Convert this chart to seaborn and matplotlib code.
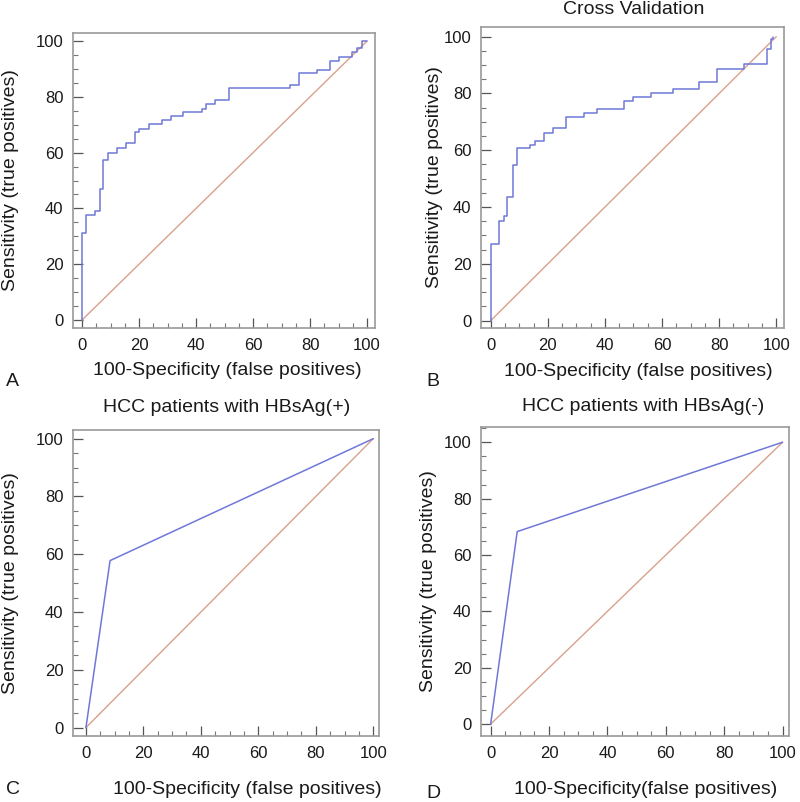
import matplotlib
matplotlib.use("Agg")
import matplotlib.pyplot as plt
import seaborn as sns
import pandas as pd
from matplotlib.ticker import MultipleLocator

# ---------------- data ----------------
a_fpr = [0, 0, 1.4, 4.6, 6.3, 7.5, 9.2, 12.4, 15.4, 18.6, 20.1, 23.3, 28, 31.1, 35.4,
         42, 43.5, 46.7, 51.4, 73, 76.2, 82.3, 87, 90.3, 94.6, 96.4, 98.1, 100]
a_tpr = [0, 31, 37.8, 39, 47, 57.5, 60, 61.5, 63.5, 67.4, 68.6, 70.2, 71.7, 73, 74.4,
         75.7, 77.3, 78.8, 83, 84.2, 88.6, 89.6, 92.9, 94.4, 96, 97.5, 100, 100]

b_fpr = [0, 0, 3.0, 4.7, 5.8, 7.7, 9.1, 13.8, 15.5, 18.7, 21.7, 26.4, 32.5, 37.2,
         46.7, 49.7, 56, 63.7, 73.1, 79.4, 88.7, 96.7, 98.1, 98.8]
b_tpr = [0, 26.9, 35.2, 36.9, 43.7, 54.8, 60.7, 61.9, 63.4, 66.2, 67.7, 71.6, 73, 74.6,
         77.5, 78.7, 80.3, 81.6, 84.2, 88.5, 90.4, 95.6, 99.1, 100]

c_fpr = [0, 8.4, 100]
c_tpr = [0, 57.8, 100]

d_fpr = [0, 9.1, 100]
d_tpr = [0, 68.3, 100]

diag = [0, 100]

titles = ["", "Cross Validation", "HCC patients with HBsAg(+)", "HCC patients with HBsAg(-)"]
xlabels = ["100-Specificity (false positives)", "100-Specificity (false positives)",
           "100-Specificity (false positives)", "100-Specificity(false positives)"]
ylabel = "Sensitivity (true positives)"
letters = ["A", "B", "C", "D"]

# ---------------- style ----------------
sns.set_style("ticks")
plt.rcParams["font.family"] = ["Liberation Sans", "DejaVu Sans"]

BLUE = "#6f78d8"
ORANGE = "#d9a08c"
SPINE = "#9a9a9a"
TXT = "#1a1a1a"

fig = plt.figure(figsize=(8.0, 8.02), dpi=100)

W, H = 800, 802
def rect(l, r, t, b):
    return [l / W, 1 - b / H, (r - l) / W, (b - t) / H]

boxes = [rect(73, 375, 33, 328), rect(481, 784, 27, 328),
         rect(73, 379, 430, 736), rect(481, 789, 427, 736)]
lims = [((-3.2, 102.8), (-2.9, 102.9)), ((-3.4, 102.7), (-2.6, 103.4)),
        ((-4.5, 102.0), (-2.9, 103.0)), ((-3.3, 102.2), (-4.2, 105.4))]
curves = [(a_fpr, a_tpr, "steps-post"), (b_fpr, b_tpr, "steps-post"),
          (c_fpr, c_tpr, "default"), (d_fpr, d_tpr, "default")]
ylab_x = [-0.178, -0.125, -0.176, -0.143]
xlab_pos = [(0.51, -0.115), (0.52, -0.115), (0.57, -0.148), (0.536, -0.146)]
title_pos = [None, (0.505, 1.057), (0.503, 1.075), (0.526, 1.065)]
letter_pos = [(6, 381), (426, 381), (6, 790), (426, 793)]

for i in range(4):
    ax = fig.add_axes(boxes[i])
    fx, ty, ds = curves[i]
    df = pd.DataFrame({"fpr": fx, "tpr": ty})
    ddf = pd.DataFrame({"fpr": diag, "tpr": diag})
    sns.lineplot(data=ddf, x="fpr", y="tpr", ax=ax, color=ORANGE, lw=1.0,
                 sort=False, estimator=None)
    sns.lineplot(data=df, x="fpr", y="tpr", ax=ax, color=BLUE, lw=1.1,
                 sort=False, estimator=None, drawstyle=ds)
    ax.set_xlim(*lims[i][0])
    ax.set_ylim(*lims[i][1])
    ax.xaxis.set_major_locator(MultipleLocator(20))
    ax.xaxis.set_minor_locator(MultipleLocator(5))
    ax.yaxis.set_major_locator(MultipleLocator(20))
    ax.yaxis.set_minor_locator(MultipleLocator(5))
    ax.tick_params(which="major", direction="in", length=7, width=0.9,
                   color="#555555", labelsize=12, labelcolor=TXT, pad=7)
    ax.tick_params(which="minor", direction="in", length=3.5, width=0.8,
                   color="#777777")
    for s in ax.spines.values():
        s.set_color(SPINE)
        s.set_linewidth(1.2)
    ax.set_xlabel(xlabels[i], fontsize=14, color=TXT)
    ax.xaxis.set_label_coords(*xlab_pos[i])
    ax.set_ylabel(ylabel, fontsize=14, color=TXT)
    ax.yaxis.set_label_coords(ylab_x[i], 0.5)
    if title_pos[i] is not None:
        tx, tyy = title_pos[i]
        ax.text(tx, tyy, titles[i], transform=ax.transAxes, ha="center",
                va="center", fontsize=14, color=TXT)
    lx, ly = letter_pos[i]
    fig.text(lx / W, 1 - ly / H, letters[i], fontsize=14, color=TXT,
             ha="left", va="center")

fig.savefig("out.png", dpi=100)
